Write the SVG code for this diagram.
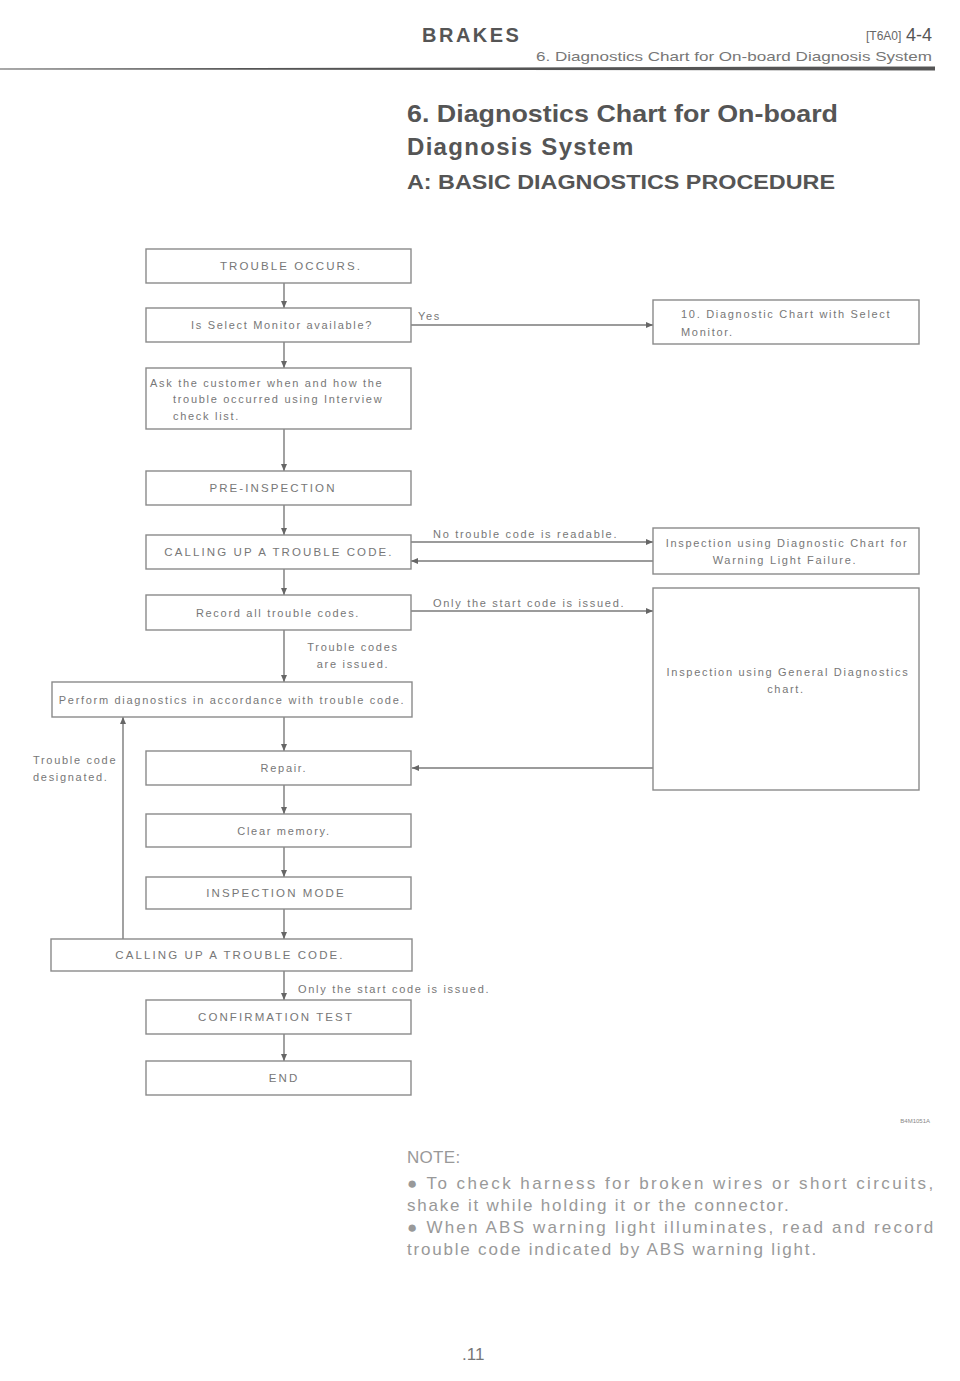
<svg xmlns="http://www.w3.org/2000/svg" width="960" height="1381" viewBox="0 0 960 1381">
<style>
.box{fill:none;stroke:#8a8a8a;stroke-width:1.4}
.t{font-family:"Liberation Sans",Arial,sans-serif;font-size:11px;fill:#777;letter-spacing:1.7px}
.u{font-size:11.5px;letter-spacing:2.1px}
.c{text-anchor:middle}
.ln{stroke:#7a7a7a;stroke-width:1.4;fill:none}
.hd{font-family:"Liberation Sans",Arial,sans-serif;fill:#555;font-weight:bold}
.note{font-family:"Liberation Sans",Arial,sans-serif;font-size:17px;fill:#999;letter-spacing:1.8px}
</style>
<defs>
<marker id="ah" markerWidth="8" markerHeight="8" refX="7" refY="4" orient="auto" markerUnits="userSpaceOnUse">
<path d="M0,1 L7,4 L0,7 Z" fill="#666"/>
</marker>
</defs>

<!-- header -->
<g id="header">
<text class="hd" x="422" y="42" font-size="20" letter-spacing="2.5">BRAKES</text>
<text x="866" y="40" font-family="Liberation Sans,Arial,sans-serif" font-size="12" fill="#666">[T6A0]</text>
<text x="906" y="41" font-family="Liberation Sans,Arial,sans-serif" font-size="18" fill="#555">4-4</text>
<text x="536" y="61" font-family="Liberation Sans,Arial,sans-serif" font-size="13" fill="#777" textLength="396" lengthAdjust="spacingAndGlyphs">6. Diagnostics Chart for On-board Diagnosis System</text>
<polygon points="0,68.5 935,66.5 935,70.5 0,69.5" fill="#555"/>
<text class="hd" x="407" y="122" font-size="24" textLength="431" lengthAdjust="spacingAndGlyphs">6. Diagnostics Chart for On-board</text>
<text class="hd" x="407" y="155" font-size="24" letter-spacing="1.3">Diagnosis System</text>
<text class="hd" x="407" y="189" font-size="20" textLength="428" lengthAdjust="spacingAndGlyphs">A: BASIC DIAGNOSTICS PROCEDURE</text>
</g>

<!-- connectors -->
<g id="connectors">
<line class="ln" x1="284" y1="283" x2="284" y2="308" marker-end="url(#ah)"/>
<line class="ln" x1="284" y1="342" x2="284" y2="368" marker-end="url(#ah)"/>
<line class="ln" x1="284" y1="429" x2="284" y2="471" marker-end="url(#ah)"/>
<line class="ln" x1="284" y1="505" x2="284" y2="535" marker-end="url(#ah)"/>
<line class="ln" x1="284" y1="569" x2="284" y2="595" marker-end="url(#ah)"/>
<line class="ln" x1="284" y1="630" x2="284" y2="682" marker-end="url(#ah)"/>
<line class="ln" x1="284" y1="717" x2="284" y2="751" marker-end="url(#ah)"/>
<line class="ln" x1="284" y1="785" x2="284" y2="814" marker-end="url(#ah)"/>
<line class="ln" x1="284" y1="847" x2="284" y2="877" marker-end="url(#ah)"/>
<line class="ln" x1="284" y1="909" x2="284" y2="939" marker-end="url(#ah)"/>
<line class="ln" x1="284" y1="971" x2="284" y2="1000" marker-end="url(#ah)"/>
<line class="ln" x1="284" y1="1034" x2="284" y2="1061" marker-end="url(#ah)"/>
<line class="ln" x1="411" y1="325" x2="653" y2="325" marker-end="url(#ah)"/>
<line class="ln" x1="411" y1="542" x2="653" y2="542" marker-end="url(#ah)"/>
<line class="ln" x1="653" y1="561" x2="411" y2="561" marker-end="url(#ah)"/>
<line class="ln" x1="411" y1="611" x2="653" y2="611" marker-end="url(#ah)"/>
<line class="ln" x1="653" y1="768" x2="412" y2="768" marker-end="url(#ah)"/>
<line class="ln" x1="123" y1="939" x2="123" y2="717" marker-end="url(#ah)"/>
<text class="t" x="418" y="320">Yes</text>
<text class="t" x="433" y="538">No trouble code is readable.</text>
<text class="t" x="433" y="607">Only the start code is issued.</text>
<text class="t c" x="353" y="651">Trouble codes</text>
<text class="t c" x="353" y="668">are issued.</text>
<text class="t" x="33" y="764">Trouble code</text>
<text class="t" x="33" y="781">designated.</text>
<text class="t" x="298" y="993">Only the start code is issued.</text>
</g>

<!-- nodes -->
<g id="n1"><rect class="box" x="146" y="249" width="265" height="34"/><text class="t u c" x="291" y="270">TROUBLE OCCURS.</text></g>
<g id="n2"><rect class="box" x="146" y="308" width="265" height="34"/><text class="t c" x="282" y="329">Is Select Monitor available?</text></g>
<g id="n3"><rect class="box" x="146" y="368" width="265" height="61"/>
<text class="t" x="150" y="387">Ask the customer when and how the</text>
<text class="t" x="173" y="403">trouble occurred using Interview</text>
<text class="t" x="173" y="420">check list.</text></g>
<g id="n4"><rect class="box" x="146" y="471" width="265" height="34"/><text class="t u c" x="273" y="492">PRE-INSPECTION</text></g>
<g id="n5"><rect class="box" x="146" y="535" width="265" height="34"/><text class="t u c" x="279" y="556">CALLING UP A TROUBLE CODE.</text></g>
<g id="n6"><rect class="box" x="146" y="595" width="265" height="35"/><text class="t c" x="278" y="617">Record all trouble codes.</text></g>
<g id="n7"><rect class="box" x="52" y="682" width="360" height="35"/><text class="t c" x="232" y="704">Perform diagnostics in accordance with trouble code.</text></g>
<g id="n8"><rect class="box" x="146" y="751" width="265" height="34"/><text class="t c" x="284" y="772">Repair.</text></g>
<g id="n9"><rect class="box" x="146" y="814" width="265" height="33"/><text class="t c" x="284" y="835">Clear memory.</text></g>
<g id="n10"><rect class="box" x="146" y="877" width="265" height="32"/><text class="t u c" x="276" y="897">INSPECTION MODE</text></g>
<g id="n11"><rect class="box" x="51" y="939" width="361" height="32"/><text class="t u c" x="230" y="959">CALLING UP A TROUBLE CODE.</text></g>
<g id="n12"><rect class="box" x="146" y="1000" width="265" height="34"/><text class="t u c" x="276" y="1021">CONFIRMATION TEST</text></g>
<g id="n13"><rect class="box" x="146" y="1061" width="265" height="34"/><text class="t u c" x="284" y="1082">END</text></g>
<g id="n14"><rect class="box" x="653" y="300" width="266" height="44"/>
<text class="t" x="681" y="318">10. Diagnostic Chart with Select</text>
<text class="t" x="681" y="336">Monitor.</text></g>
<g id="n15"><rect class="box" x="653" y="528" width="266" height="46"/>
<text class="t c" x="787" y="547">Inspection using Diagnostic Chart for</text>
<text class="t c" x="785" y="564">Warning Light Failure.</text></g>
<g id="n16"><rect class="box" x="653" y="588" width="266" height="202"/>
<text class="t c" x="788" y="676">Inspection using General Diagnostics</text>
<text class="t c" x="786" y="693">chart.</text></g>

<!-- footer -->
<g id="footer">
<text x="930" y="1123" text-anchor="end" font-family="Liberation Sans,Arial,sans-serif" font-size="6" fill="#888">B4M1051A</text>
<text class="note" x="407" y="1163" style="letter-spacing:0.3px">NOTE:</text>
<text class="note" x="407" y="1189" textLength="528" lengthAdjust="spacing">● To check harness for broken wires or short circuits,</text>
<text class="note" x="407" y="1211">shake it while holding it or the connector.</text>
<text class="note" x="407" y="1233" textLength="528" lengthAdjust="spacing">● When ABS warning light illuminates, read and record</text>
<text class="note" x="407" y="1255">trouble code indicated by ABS warning light.</text>
<text x="462" y="1360" font-family="Liberation Sans,Arial,sans-serif" font-size="17" fill="#777">.11</text>
</g>
</svg>
